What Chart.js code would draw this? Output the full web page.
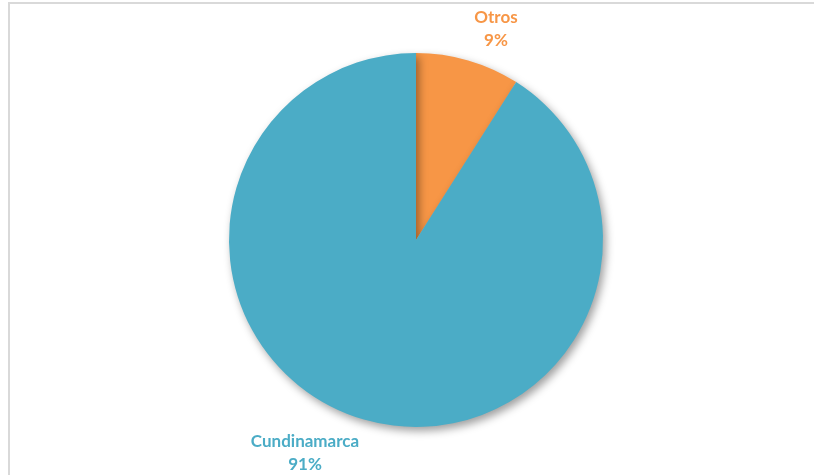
<!DOCTYPE html>
<html>
<head>
<meta charset="utf-8">
<script src="https://cdn.jsdelivr.net/npm/chart.js@4/dist/chart.umd.min.js"></script>
<style>
  html, body { margin: 0; padding: 0; background: #ffffff; }
  #wrap { position: relative; width: 814px; height: 475px; overflow: hidden; }
  #frame { position: absolute; left: 8px; top: 2px; right: 0; bottom: -4px; border-top: 2px solid #d9d9d9; border-left: 2px solid #d9d9d9; }
  canvas { position: absolute; left: 0; top: 0; }
</style>
</head>
<body>
<div id="wrap">
  <div id="frame"></div>
  <canvas id="pie" width="814" height="475"></canvas>
</div>
<script>
const LABELS = ["Otros", "Cundinamarca"];
const VALUES = [9, 91];
const COLORS = ["#f79646", "#4bacc6"];
// label anchor offsets from the pie centre, in px
const LABEL_OFFSETS = [[80, -217], [-111, 207]];

// soft drop shadow under the slices
const shadowPlugin = {
  id: "shadow",
  beforeDatasetsDraw(chart) {
    const ctx = chart.ctx;
    ctx.save();
    ctx.shadowColor = "rgba(0,0,0,0.38)";
    ctx.shadowBlur = 9;
    ctx.shadowOffsetX = 3;
    ctx.shadowOffsetY = 4;
  },
  afterDatasetsDraw(chart) {
    chart.ctx.restore();
  },
};

// category name + percentage outside each slice
const labelPlugin = {
  id: "sliceLabels",
  afterDraw(chart) {
    const ctx = chart.ctx;
    const arc = chart.getDatasetMeta(0).data[0];
    const total = VALUES.reduce((a, b) => a + b, 0);
    ctx.save();
    ctx.font = "bold 17px Lato, 'Open Sans', sans-serif";
    ctx.textAlign = "center";
    ctx.textBaseline = "alphabetic";
    LABELS.forEach((name, i) => {
      const x = arc.x + LABEL_OFFSETS[i][0];
      const y = arc.y + LABEL_OFFSETS[i][1];
      ctx.fillStyle = COLORS[i];
      ctx.fillText(name, x, y);
      ctx.fillText(Math.round((VALUES[i] / total) * 100) + "%", x, y + 23);
    });
    ctx.restore();
  },
};

new Chart(document.getElementById("pie"), {
  type: "pie",
  data: {
    labels: LABELS,
    datasets: [{ data: VALUES, backgroundColor: COLORS, borderWidth: 0 }],
  },
  options: {
    responsive: false,
    animation: false,
    layout: { padding: { top: 53, bottom: 48, left: 229, right: 211 } },
    plugins: { legend: { display: false }, tooltip: { enabled: false } },
  },
  plugins: [shadowPlugin, labelPlugin],
});
</script>
</body>
</html>
